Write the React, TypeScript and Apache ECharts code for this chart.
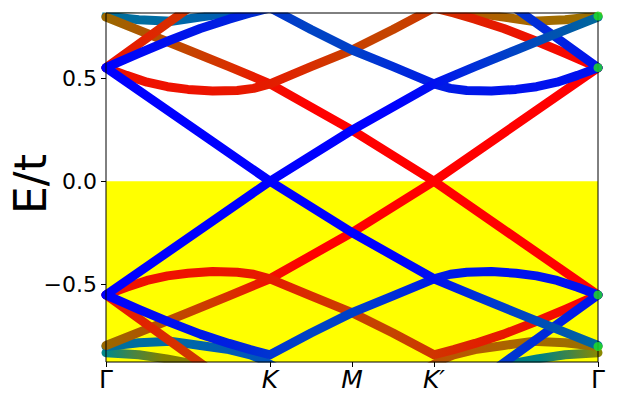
import React, { useEffect, useRef } from "react";
import * as echarts from "echarts";

type Pt = [number, number];

// ---- axes ----
const TICK_POS = [0, 2, 3, 4, 6];
const TICK_LABELS = ["Γ", "K", "M", "K′", "Γ"];
const TICK_ITALIC = [false, true, true, true, false];
const Y_TICKS = [-0.5, 0, 0.5];
const Y_MIN = -0.875;
const Y_MAX = 0.815;
const X_MIN = 0;
const X_MAX = 6;
const Y_NAME = "E/t";

// ---- occupied region (E below 0) ----
const FILL_LINE: Pt[] = [[0, 0], [6, 0]];

// ---- bands (x: path coordinate, Γ=0, K=2, M=3, K'=4, Γ=6; y: E/t) ----
const BAND_1: Pt[] = [[0, 0.55], [2, 0], [3, -0.248], [4, -0.472], [4.5, -0.555], [5, -0.636], [5.5, -0.716], [6, -0.795]];
const BAND_2: Pt[] = [[0, -0.55], [2, 0], [3, 0.248], [4, 0.472], [4.5, 0.555], [5, 0.636], [5.5, 0.716], [6, 0.795]];
const BAND_3: Pt[] = [[0, -0.795], [0.5, -0.716], [1, -0.636], [1.5, -0.555], [2, -0.472], [3, -0.248], [4, 0], [6, 0.55]];
const BAND_4: Pt[] = [[0, 0.795], [0.5, 0.716], [1, 0.636], [1.5, 0.555], [2, 0.472], [3, 0.248], [4, 0], [6, -0.55]];
const BAND_5: Pt[] = [[0, 0.55], [0.25, 0.513], [0.5, 0.48], [0.75, 0.458], [1, 0.445], [1.3, 0.437], [1.6, 0.44], [1.8, 0.45], [2, 0.472], [2.5, 0.555], [3, 0.636], [3.5, 0.735], [4, 0.84], [4.24, 0.815], [4.5, 0.785], [4.85, 0.74], [5.22, 0.683], [5.6, 0.62], [6, 0.55]];
const BAND_6: Pt[] = [[0, 0.55], [0.4, 0.62], [0.78, 0.683], [1.15, 0.74], [1.5, 0.785], [1.76, 0.815], [2, 0.84], [2.5, 0.735], [3, 0.636], [3.5, 0.555], [4, 0.472], [4.2, 0.45], [4.4, 0.44], [4.7, 0.437], [5, 0.445], [5.25, 0.458], [5.5, 0.48], [5.75, 0.513], [6, 0.55]];
const BAND_7: Pt[] = [[0, -0.55], [0.25, -0.513], [0.5, -0.48], [0.75, -0.458], [1, -0.445], [1.3, -0.437], [1.6, -0.44], [1.8, -0.45], [2, -0.472], [2.5, -0.555], [3, -0.636], [3.5, -0.735], [4, -0.84], [4.24, -0.815], [4.5, -0.785], [4.85, -0.74], [5.22, -0.683], [5.6, -0.62], [6, -0.55]];
const BAND_8: Pt[] = [[0, -0.55], [0.4, -0.62], [0.78, -0.683], [1.15, -0.74], [1.5, -0.785], [1.76, -0.815], [2, -0.84], [2.5, -0.735], [3, -0.636], [3.5, -0.555], [4, -0.472], [4.2, -0.45], [4.4, -0.44], [4.7, -0.437], [5, -0.445], [5.25, -0.458], [5.5, -0.48], [5.75, -0.513], [6, -0.55]];
const STEEP_1: Pt[] = [[0, 0.55], [0.6, 0.722], [1.2, 0.894]];
const STEEP_2: Pt[] = [[4.8, 0.894], [5.4, 0.722], [6, 0.55]];
const STEEP_3: Pt[] = [[0, -0.55], [0.6, -0.722], [1.2, -0.894]];
const STEEP_4: Pt[] = [[4.8, -0.894], [5.4, -0.722], [6, -0.55]];
const ARC_1: Pt[] = [[0, 0.8], [0.4, 0.782], [0.8, 0.775], [1.15, 0.795], [1.5, 0.815], [1.76, 0.84], [1.88, 0.86], [2.2, 0.93]];
const ARC_2: Pt[] = [[3.8, 0.93], [4.12, 0.86], [4.24, 0.84], [4.5, 0.815], [4.85, 0.795], [5.2, 0.775], [5.6, 0.782], [6, 0.8]];
const ARC_3: Pt[] = [[0, -0.8], [0.4, -0.782], [0.8, -0.775], [1.15, -0.795], [1.5, -0.815], [1.76, -0.84], [1.88, -0.86], [2.2, -0.93]];
const ARC_4: Pt[] = [[3.8, -0.93], [4.12, -0.86], [4.24, -0.84], [4.5, -0.815], [4.85, -0.795], [5.2, -0.775], [5.6, -0.782], [6, -0.8]];
const LOW_1: Pt[] = [[0, 0.83], [0.4, 0.84], [0.74, 0.86], [1, 0.88], [1.3, 0.92]];
const LOW_2: Pt[] = [[4.7, 0.92], [5, 0.88], [5.26, 0.86], [5.6, 0.84], [6, 0.83]];
const LOW_3: Pt[] = [[0, -0.83], [0.4, -0.84], [0.74, -0.86], [1, -0.88], [1.3, -0.92]];
const LOW_4: Pt[] = [[4.7, -0.92], [5, -0.88], [5.26, -0.86], [5.6, -0.84], [6, -0.83]];

// degenerate points marked in green at the right Γ
const DEGENERATE: Pt[] = [[6, 0.55], [6, -0.55], [6, 0.8], [6, -0.8]];

// ---- colour stops along x (style) ----
type Stops = [number, string][];
const C_BLUE_TEAL: Stops = [[0, "#0000ff"], [3.5, "#0000ff"], [4, "#0010f0"], [4.5, "#0030d8"], [5, "#0044c4"], [5.5, "#0054b0"], [6, "#00689a"]];
const C_RED_BROWN: Stops = [[0, "#9a6800"], [0.5, "#b05400"], [1, "#c44400"], [1.5, "#d83000"], [2, "#f01000"], [2.5, "#ff0000"], [6, "#ff0000"]];
const C_RED_ARC: Stops = [[0, "#ee1100"], [1, "#ee1200"], [2, "#e41c00"], [2.5, "#d82e00"], [3, "#c84000"], [3.5, "#c44400"], [4, "#d03400"], [4.5, "#e02000"], [5.2, "#ee1000"], [6, "#ff0000"]];
const C_BLUE_ARC: Stops = [[0, "#0000ff"], [0.8, "#0010ee"], [1.5, "#0020e0"], [2, "#0034d0"], [2.5, "#0044c4"], [3, "#0040c8"], [3.5, "#002ed8"], [4, "#001ce4"], [5, "#0012ee"], [6, "#0011ee"]];
const C_STEEP_RED: Stops = [[0, "#ee1100"], [0.6, "#dd2800"], [1.2, "#cc3c00"]];
const C_STEEP_BLUE: Stops = [[4.8, "#003ccc"], [5.4, "#0028dd"], [6, "#0011ee"]];
const C_TEAL: Stops = [[0, "#00709a"], [0.8, "#006aa4"], [1.5, "#005cb4"], [2.2, "#0050c0"]];
const C_OLIVE: Stops = [[3.8, "#c05000"], [4.5, "#b45c00"], [5.2, "#a46a00"], [6, "#9a7000"]];
const C_LOW_L: Stops = [[0, "#00888a"], [0.35, "#4a8440"], [0.7, "#808000"], [1.3, "#8a7800"]];
const C_LOW_R: Stops = [[4.7, "#00788a"], [5.3, "#008080"], [5.65, "#408448"], [6, "#8a8800"]];

const BANDS: { data: Pt[]; stops: Stops }[] = [
  { data: LOW_1, stops: C_LOW_L },
  { data: LOW_3, stops: C_LOW_L },
  { data: LOW_2, stops: C_LOW_R },
  { data: LOW_4, stops: C_LOW_R },
  { data: ARC_1, stops: C_TEAL },
  { data: ARC_3, stops: C_TEAL },
  { data: ARC_2, stops: C_OLIVE },
  { data: ARC_4, stops: C_OLIVE },
  { data: BAND_4, stops: C_RED_BROWN },
  { data: BAND_3, stops: C_RED_BROWN },
  { data: BAND_5, stops: C_RED_ARC },
  { data: BAND_7, stops: C_RED_ARC },
  { data: STEEP_1, stops: C_STEEP_RED },
  { data: STEEP_3, stops: C_STEEP_RED },
  { data: STEEP_2, stops: C_STEEP_BLUE },
  { data: STEEP_4, stops: C_STEEP_BLUE },
  { data: BAND_6, stops: C_BLUE_ARC },
  { data: BAND_8, stops: C_BLUE_ARC },
  { data: BAND_1, stops: C_BLUE_TEAL },
  { data: BAND_2, stops: C_BLUE_TEAL },
];

const FONT = "DejaVu Sans";

function bandSeries(data: Pt[], stops: Stops) {
  const xs = data.map((d) => d[0]);
  const x0 = Math.min(...xs);
  const x1 = Math.max(...xs);
  const colorStops = stops.map(([x, c]) => ({
    offset: Math.max(0, Math.min(1, (x - x0) / (x1 - x0))),
    color: c,
  }));
  return {
    type: "line",
    data,
    symbol: "none",
    showSymbol: false,
    smooth: false,
    silent: true,
    z: 2,
    lineStyle: {
      width: 9,
      cap: "round",
      join: "round",
      color: new echarts.graphic.LinearGradient(0, 0, 1, 0, colorStops),
    },
  };
}

export default function App() {
  const ref = useRef<HTMLDivElement>(null);
  useEffect(() => {
    const chart = echarts.init(ref.current!, null, { renderer: "svg" });
    const option: any = {
      animation: false,
      backgroundColor: "#ffffff",
      grid: {
        left: 106,
        right: 20,
        top: 13,
        bottom: 40,
        containLabel: false,
        outerBoundsMode: "none",
        show: true,
        borderColor: "#000",
        borderWidth: 1,
        backgroundColor: "transparent",
        z: 6,
      },
      xAxis: {
        type: "value",
        min: X_MIN,
        max: X_MAX,
        z: 6,
        axisLine: { show: false, onZero: false },
        splitLine: { show: false },
        axisTick: { show: true, customValues: TICK_POS, length: 5, lineStyle: { color: "#000", width: 1 } },
        axisLabel: {
          customValues: TICK_POS,
          margin: 5,
          color: "#000",
          fontSize: 25,
          fontFamily: FONT,
          formatter: (v: number) => {
            const i = TICK_POS.indexOf(v);
            if (i < 0) return "";
            return (TICK_ITALIC[i] ? "{i|" : "{u|") + TICK_LABELS[i] + "}";
          },
          rich: {
            u: { fontSize: 25, fontFamily: FONT, color: "#000", fontStyle: "normal" },
            i: { fontSize: 25, fontFamily: FONT, color: "#000", fontStyle: "italic" },
          },
        },
      },
      yAxis: {
        type: "value",
        min: Y_MIN,
        max: Y_MAX,
        z: 6,
        axisLine: { show: false, onZero: false },
        splitLine: { show: false },
        axisTick: { show: true, customValues: Y_TICKS, length: 5, lineStyle: { color: "#000", width: 1 } },
        axisLabel: {
          customValues: Y_TICKS,
          margin: 9,
          color: "#000",
          fontSize: 22,
          fontFamily: FONT,
          formatter: (v: number) => (v < 0 ? "\u2212" : "") + Math.abs(v).toFixed(1),
        },
      },
      graphic: {
        elements: [
          { type: "rect", z: 5, silent: true, shape: { x: 0, y: 0, width: 618, height: 12.5 }, style: { fill: "#fff" } },
          { type: "rect", z: 5, silent: true, shape: { x: 0, y: 362.5, width: 618, height: 8 }, style: { fill: "#fff" } },
          {
            type: "text",
            z: 8,
            silent: true,
            x: 30,
            y: 184,
            rotation: Math.PI / 2,
            style: {
              text: Y_NAME,
              fontSize: 44,
              fontFamily: FONT,
              fill: "#000",
              align: "center",
              verticalAlign: "middle",
            },
          },
        ],
      },
      series: [
        {
          type: "line",
          data: FILL_LINE,
          symbol: "none",
          silent: true,
          z: 1,
          lineStyle: { width: 0, color: "#ffff00" },
          areaStyle: { color: "#ffff00", opacity: 1, origin: "start" },
        },
        ...BANDS.map((b) => bandSeries(b.data, b.stops)),
        {
          type: "scatter",
          data: DEGENERATE,
          symbolSize: 9,
          clip: false,
          silent: true,
          z: 7,
          itemStyle: { color: "#22e622" },
        },
      ],
    };
    chart.setOption(option);
    return () => chart.dispose();
  }, []);
  return (
    <div
      ref={ref}
      style={{ position: "fixed", left: 0, top: 0, width: 618, height: 402, background: "#fff" }}
    />
  );
}
